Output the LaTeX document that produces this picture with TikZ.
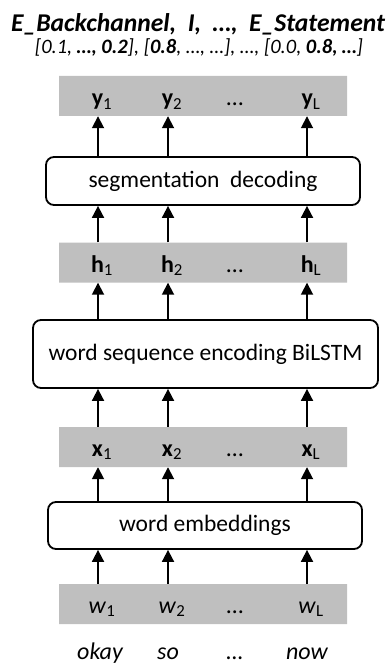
\documentclass[tikz,border=0pt]{standalone}
\usepackage{fontspec}
\setmainfont{Carlito}
\usetikzlibrary{shapes.misc,arrows.meta}

\tikzset{
  band/.style={chamfered rectangle,
    chamfered rectangle corners={north east,south west},
    chamfered rectangle xsep=5pt, chamfered rectangle ysep=5pt,
    fill=bandgray, draw=none, inner sep=0pt,
    minimum width=288pt, minimum height=40pt},
  layerbox/.style={draw, line width=1.8pt, rounded corners=8pt,
    fill=white, inner sep=0pt, font=\fontsize{23.5}{27}\selectfont},
  lab/.style={anchor=base, inner sep=0pt, font=\fontsize{24}{28}\selectfont},
  word/.style={anchor=base, inner sep=0pt, font=\fontsize{24}{28}\selectfont\itshape},
  arr/.style={line width=1.8pt, -{Triangle[length=12pt,width=12pt]}},
}
\definecolor{bandgray}{RGB}{191,191,191}
\newcommand{\vlab}[2]{{\bfseries #1}\textsubscript{#2}}

\begin{document}
\begin{tikzpicture}[x=1pt,y=-1pt]
  \useasboundingbox (0,0) rectangle (391,666);

  % column positions
  \coordinate (c1) at (98,0);
  \coordinate (c2) at (168,0);
  \coordinate (c3) at (235,0);
  \coordinate (c4) at (307,0);

  % output labels
  \node[anchor=base, inner sep=0pt, font=\fontsize{25.6}{30}\selectfont\bfseries\itshape] (title) at (198,32)
    {E\_Backchannel,\ \ I,\ \ …,\ \ E\_Statement};
  \node[anchor=base, inner sep=0pt, font=\fontsize{20.5}{24}\selectfont\itshape] (probs) at (199,54)
    {[0.1, \textbf{…, 0.2}], [\textbf{0.8}, …, …], …, [0.0, \textbf{0.8, …}]};

  % grey vector bands
  \node[band] (yb) at (203,96) {};
  \node[band] (hb) at (203,262.5) {};
  \node[band] (xb) at (203,447) {};
  \node[band] (wb) at (203,604) {};

  % processing layers
  \node[layerbox, minimum width=314pt, minimum height=48pt] (seg) at (203,181) {segmentation\ \ decoding};
  \node[layerbox, minimum width=345pt, minimum height=68pt] (enc) at (205.5,354) {word sequence encoding BiLSTM};
  \node[layerbox, minimum width=314pt, minimum height=47pt] (emb) at (205,525.5) {word embeddings};

  % vector labels
  \node[lab] (y1) at (102,106) {\vlab{y}{1}};
  \node[lab] (y2) at (172,106) {\vlab{y}{2}};
  \node[lab] (y3) at (235,106) {…};
  \node[lab] (y4) at (311,106) {\vlab{y}{L}};

  \node[lab] (h1) at (102,272) {\vlab{h}{1}};
  \node[lab] (h2) at (172,272) {\vlab{h}{2}};
  \node[lab] (h3) at (235,272) {…};
  \node[lab] (h4) at (311,272) {\vlab{h}{L}};

  \node[lab] (x1) at (102,456) {\vlab{x}{1}};
  \node[lab] (x2) at (172,456) {\vlab{x}{2}};
  \node[lab] (x3) at (235,456) {…};
  \node[lab] (x4) at (311,456) {\vlab{x}{L}};

  \node[lab] (w1) at (102,613) {\textit{w}\textsubscript{1}};
  \node[lab] (w2) at (172,613) {\textit{w}\textsubscript{2}};
  \node[lab] (w3) at (235,613) {…};
  \node[lab] (w4) at (311,613) {\textit{w}\textsubscript{L}};

  % input words
  \node[word] (t1) at (100,659) {okay};
  \node[word] (t2) at (168,659) {so};
  \node[word] (t3) at (235,659) {…};
  \node[word] (t4) at (307,659) {now};

  % connectors
  \foreach \c in {c1,c2,c4} {
    \draw[arr] (wb.north -| \c) -- (emb.south -| \c);
    \draw[arr] (emb.north -| \c) -- (xb.south -| \c);
    \draw[arr] (xb.north -| \c) -- (enc.south -| \c);
    \draw[arr] (enc.north -| \c) -- (hb.south -| \c);
    \draw[arr] (hb.north -| \c) -- (seg.south -| \c);
    \draw[arr] (seg.north -| \c) -- (yb.south -| \c);
  }
\end{tikzpicture}
\end{document}
